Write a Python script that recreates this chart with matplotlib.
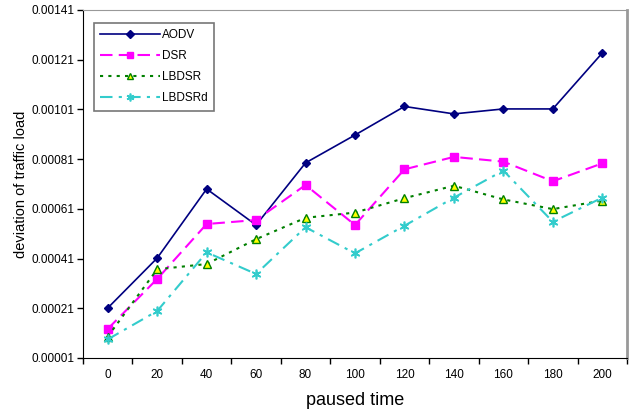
import matplotlib
matplotlib.use("Agg")
import matplotlib.pyplot as plt
from matplotlib.ticker import FixedLocator

plt.rcParams['font.family'] = ['Liberation Sans', 'DejaVu Sans']

categories = ['0', '20', '40', '60', '80', '100', '120', '140', '160', '180', '200']
aodv = [0.000211, 0.000412, 0.000690, 0.000545, 0.000795, 0.000907, 0.001022, 0.000992, 0.001012, 0.001012, 0.001237]
dsr = [0.000127, 0.000328, 0.000549, 0.000565, 0.000706, 0.000545, 0.000769, 0.000819, 0.000800, 0.000721, 0.000793]
lbdsr = [0.000096, 0.000367, 0.000388, 0.000488, 0.000574, 0.000595, 0.000653, 0.000703, 0.000648, 0.000609, 0.000643]
lbdsrd = [0.000085, 0.000199, 0.000435, 0.000348, 0.000536, 0.000431, 0.000542, 0.000655, 0.000764, 0.000558, 0.000655]
yticks = [0.00001, 0.00021, 0.00041, 0.00061, 0.00081, 0.00101, 0.00121, 0.00141]

fig = plt.figure(figsize=(6.33, 4.13), dpi=100)
ax = fig.add_axes([83/633, 1-358/413, (627-83)/633, (358-10)/413])

x = list(range(len(categories)))
ax.plot(x, aodv, color='#000080', lw=1.2, marker='D', ms=4.5, mfc='#000080', mec='#000080', label='AODV')
ax.plot(x, dsr, color='#FF00FF', lw=1.5, ls=(0, (6, 3)), marker='s', ms=5.5, mfc='#FF00FF', mec='#FF00FF', label='DSR')
ax.plot(x, lbdsr, color='#008000', lw=1.5, ls=(0, (1.5, 2.5)), marker='^', ms=6, mfc='#FFFF00', mec='#008000', mew=1, label='LBDSR')
ax.plot(x, lbdsrd, color='#33CCCC', lw=1.5, ls=(0, (6, 3, 1.5, 3)), marker=(6, 2, 0), ms=7, mec='#33CCCC', mew=1.2, label='LBDSRd')

ax.set_xlim(-0.5, len(categories) - 0.5)
ax.set_ylim(yticks[0], yticks[-1])
ax.set_xticks(x)
ax.set_xticklabels(categories, fontsize=8.5)
ax.xaxis.set_minor_locator(FixedLocator([i + 0.5 for i in range(-1, len(categories))]))
ax.tick_params(axis='x', which='major', length=0, pad=8)
ax.tick_params(axis='x', which='minor', length=4, width=1, direction='out')
ax.set_yticks(yticks)
ax.set_yticklabels(['%.5f' % v for v in yticks], fontsize=8.5)
ax.tick_params(axis='y', length=4, width=1, direction='out', pad=2)

ax.spines['left'].set_color('black')
ax.spines['bottom'].set_color('black')
ax.spines['top'].set_color('#999999')
ax.spines['top'].set_linewidth(0.8)
ax.spines['right'].set_color('#999999')
ax.spines['right'].set_linewidth(2)

ax.set_ylabel('deviation of traffic load', fontsize=10.5, labelpad=3)
ax.set_xlabel('paused time', fontsize=13, labelpad=8)

leg = ax.legend(loc='upper left', bbox_to_anchor=(11/544, 1-13/348), fontsize=8.5, frameon=True,
                fancybox=False, edgecolor='#555555', handlelength=5.0, handletextpad=0.2,
                labelspacing=0.75, borderpad=0.55, borderaxespad=0, markerscale=0.8)
leg.get_frame().set_linewidth(1.2)

fig.savefig('out.png', dpi=100)
